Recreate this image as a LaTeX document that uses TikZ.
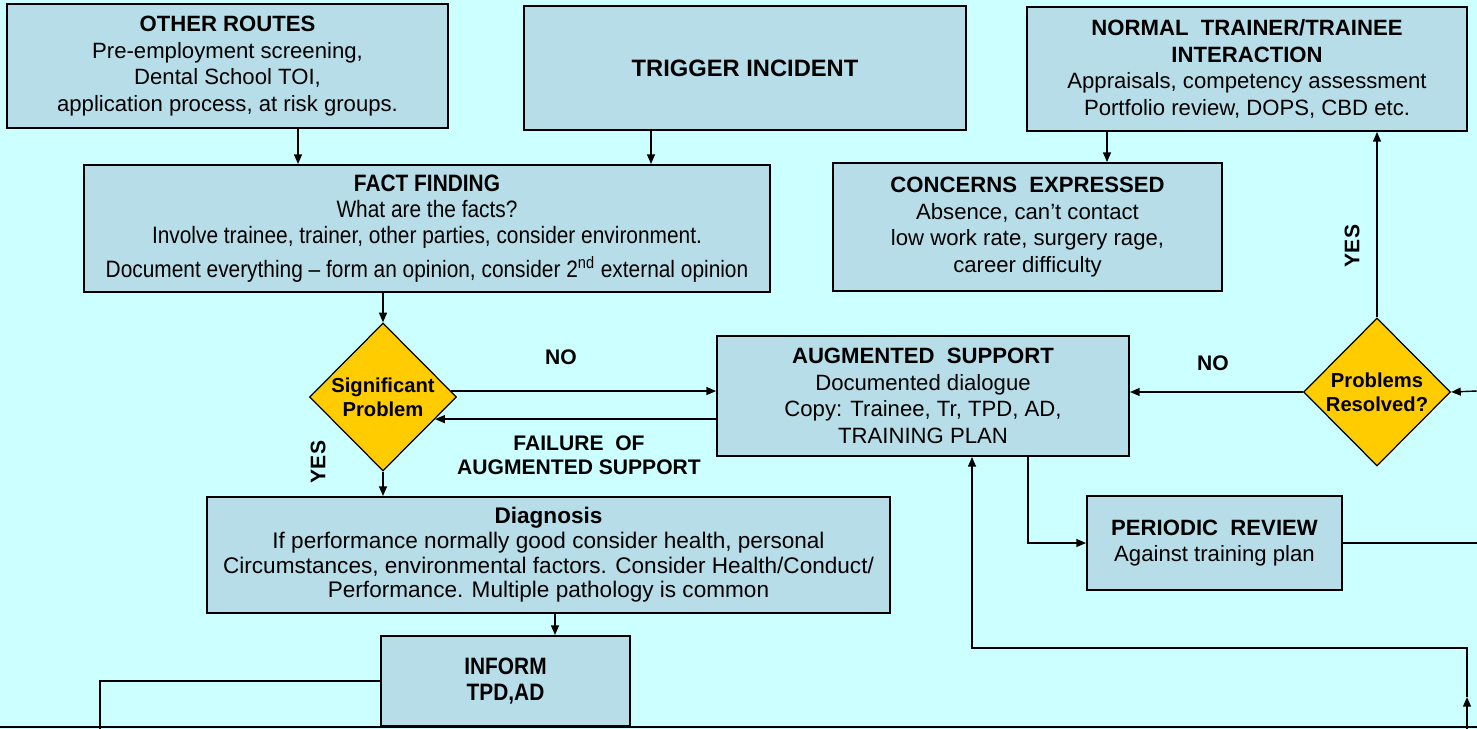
\documentclass[tikz,border=0pt]{standalone}
\usepackage{fontspec}
\setmainfont{Liberation Sans}
\newfontfamily\narrowfont[FakeStretch=0.88]{Liberation Sans}
\usetikzlibrary{shapes.geometric,arrows.meta}
\definecolor{bgcyan}{HTML}{CCFFFF}
\definecolor{boxblue}{HTML}{B7DDE8}
\definecolor{gold}{HTML}{FFCC00}

\begin{document}
\begin{tikzpicture}
  [x=0.02cm, y=-0.02cm, line width=0.8pt,
   >={Triangle[length=5.5pt,width=4.5pt]},
   box/.style={draw, fill=boxblue, line width=1.1pt, align=center, inner sep=2pt,
     font=\fontsize{12.6}{15.1}\selectfont},
   narrowbox/.style={box, font=\narrowfont\fontsize{13.5}{15}\selectfont},
   decision/.style={diamond, draw, fill=gold, line width=0.7pt, aspect=1, inner sep=0pt,
     minimum width=2.94cm, minimum height=2.96cm, align=center,
     font=\fontsize{11.5}{13.5}\selectfont\bfseries},
   lbl/.style={align=center, font=\fontsize{12}{13.5}\selectfont\bfseries}]
  \fill[bgcyan] (0,0) rectangle (1477,729);
  \useasboundingbox (0,0) rectangle (1477,729);

  % boxes
  \node[box, minimum width=8.82cm, minimum height=2.48cm] (other) at (227.5,66)
    {\textbf{OTHER ROUTES}\\Pre-employment screening,\\Dental School TOI,\\application process, at risk groups.};
  \node[box, minimum width=8.84cm, minimum height=2.48cm,
    font=\fontsize{13.5}{16}\selectfont\bfseries] (trigger) at (745,68) {TRIGGER INCIDENT};
  \node[box, minimum width=8.8cm, minimum height=2.48cm] (normal) at (1247,69)
    {\textbf{NORMAL\ \ TRAINER/TRAINEE}\\\textbf{INTERACTION}\\Appraisals, competency assessment\\Portfolio review, DOPS, CBD etc.};
  \node[narrowbox, minimum width=13.72cm, minimum height=2.54cm] (fact) at (427,228.5)
    {\textbf{FACT FINDING}\\What are the facts?\\Involve trainee, trainer, other parties, consider environment.\\[4pt]Document everything – form an opinion, consider 2\textsuperscript{nd} external opinion};
  \node[box, minimum width=7.78cm, minimum height=2.56cm] (concerns) at (1027.5,227)
    {\textbf{CONCERNS\ \ EXPRESSED}\\Absence, can’t contact\\low work rate, surgery rage,\\career difficulty};
  \node[decision] (sig) at (383,397) {Significant\\Problem};
  \node[box, minimum width=8.24cm, minimum height=2.4cm] (aug) at (923,396)
    {\textbf{AUGMENTED\ \ SUPPORT}\\Documented dialogue\\Copy: Trainee, Tr, TPD, AD,\\TRAINING PLAN};
  \node[decision] (res) at (1377,392) {Problems\\Resolved?};
  \node[box, minimum width=13.66cm, minimum height=2.32cm,
    font=\fontsize{12.85}{14}\selectfont] (diag) at (548.5,555)
    {\textbf{Diagnosis}\\If performance normally good consider health, personal\\Circumstances, environmental factors. Consider Health/Conduct/\\Performance. Multiple pathology is common};
  \node[narrowbox, minimum width=4.98cm, minimum height=1.8cm,
    font=\narrowfont\fontsize{13.5}{14.8}\selectfont\bfseries] (inform) at (505.5,681) {INFORM\\TPD,AD};
  \node[box, minimum width=5.1cm, minimum height=1.88cm] (periodic) at (1214.5,543)
    {\textbf{PERIODIC\ \ REVIEW}\\Against training plan};

  % labels
  \node[lbl] (no1) at (561,357) {NO};
  \node[lbl] (no2) at (1213,363) {NO};
  \node[lbl] (fail) at (579,455) {FAILURE\ \ OF\\AUGMENTED SUPPORT};
  \node[lbl, rotate=90] (yes1) at (318,462) {YES};
  \node[lbl, rotate=90] (yes2) at (1352,246) {YES};

  % columns and loose ends
  \coordinate (colA) at (298,0);
  \coordinate (colB) at (651,0);
  \coordinate (colC) at (1107,0);
  \coordinate (colD) at (1028,0);
  \coordinate (colE) at (972,0);
  \coordinate (colG) at (555,0);
  \coordinate (rin) at (1477,391);
  \coordinate (rout) at (1477,543);
  \coordinate (bin) at (1467,729);
  \coordinate (mid) at (1467,697);
  \coordinate (turn) at (1467,648);
  \coordinate (lout) at (100,729);
  \coordinate (bl) at (0,727);
  \coordinate (br) at (1477,727);

  \foreach \from/\to in {other.south -| colA/fact.north -| colA,
      trigger.south -| colB/fact.north -| colB,
      normal.south -| colC/concerns.north -| colC,
      fact.south -| sig.north/sig.north,
      sig.south/diag.north -| sig.south,
      diag.south -| colG/inform.north -| colG,
      sig.5/sig.5 -| aug.west,
      aug.west |- sig.-23/sig.-23,
      res.west/res.west -| aug.east,
      res.north/res.north |- normal.south,
      rin/res.east,
      bin/mid}
  \draw[->] (\from) -- (\to);
  \draw[->] (aug.south -| colD) |- (periodic.west);
  \draw (periodic.east) -- (rout);
  \draw[->] (mid) -- (turn) -| (aug.south -| colE);
  \draw (inform.west) -| (lout);
  \draw (bl) -- (br);
\end{tikzpicture}
\end{document}
